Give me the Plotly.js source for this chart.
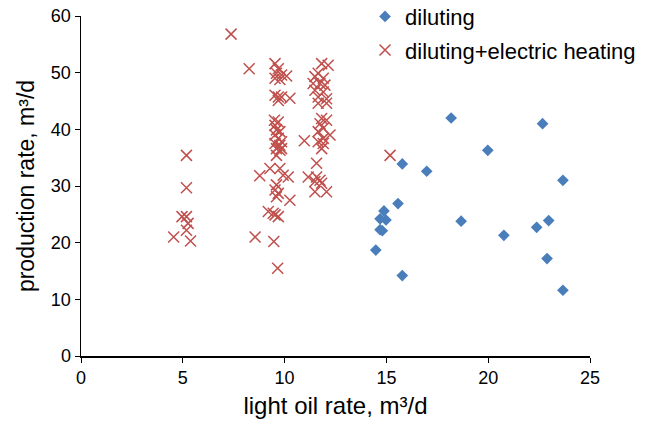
<!DOCTYPE html>
<html>
<head>
<meta charset="utf-8">
<script src="https://cdn.plot.ly/plotly-3.0.1.min.js"></script>
<style>html,body{margin:0;padding:0;background:#fff}#chart{width:646px;height:424px}</style>
</head>
<body>
<div id="chart"></div>
<script>
// diluting series
const dilutingX = [18.18, 22.67, 19.98, 15.78, 16.98, 23.67, 15.57, 14.88, 14.69, 14.98, 14.69, 14.80, 18.67, 22.97, 22.38, 20.77, 14.48, 22.89, 15.78, 23.67];
const dilutingY = [42.0, 41.0, 36.3, 33.9, 32.6, 31.0, 26.9, 25.6, 24.2, 24.0, 22.3, 22.1, 23.8, 23.9, 22.7, 21.3, 18.7, 17.2, 14.2, 11.6];

// diluting + electric heating series
const heatingX = [
  5.18, 5.18, 4.96, 5.18, 5.26, 5.18, 4.55, 5.38,
  7.37, 8.26, 8.55, 8.78, 9.47, 9.66,
  9.53, 9.69, 9.60, 9.85, 10.10, 9.53, 9.77, 9.53, 9.69, 9.85, 9.69, 10.26,
  9.50, 9.69, 9.53, 9.60, 9.77, 9.53, 9.69, 9.85, 9.53, 9.77, 9.60, 9.77, 9.60, 9.85,
  9.28, 9.77, 9.93, 10.18, 9.60, 9.53, 9.69, 9.60, 10.26, 9.20, 9.44, 9.69, 9.53, 10.97,
  11.82, 12.14, 11.65, 11.49, 11.90, 11.40, 11.74, 11.98, 11.49, 11.90, 11.65, 12.06, 11.65, 12.06,
  11.82, 12.06, 11.74, 11.90, 11.65, 12.23, 11.90, 11.65, 11.90, 11.82, 11.57, 11.16, 11.57, 11.74,
  11.82, 11.49, 11.49, 12.06, 15.18
];
const heatingY = [
  35.4, 29.7, 24.6, 24.6, 23.4, 22.2, 21.0, 20.3,
  56.8, 50.7, 21.0, 31.8, 20.2, 15.5,
  51.6, 50.7, 49.9, 49.6, 49.4, 49.0, 48.8, 46.0, 45.7, 45.7, 45.1, 45.5,
  41.6, 41.3, 40.7, 39.9, 39.6, 39.0, 38.4, 37.8, 37.5, 37.2, 36.6, 36.3, 35.4, 36.6,
  33.1, 33.1, 31.9, 31.6, 30.2, 29.3, 28.7, 28.1, 27.5, 25.5, 25.2, 24.6, 24.9, 38.0,
  51.6, 51.3, 49.9, 49.3, 49.0, 48.1, 48.1, 47.8, 46.9, 46.6, 45.7, 45.4, 44.6, 44.6,
  41.9, 41.6, 41.0, 40.2, 39.6, 39.0, 38.4, 37.8, 37.5, 36.6, 34.0, 31.6, 31.6, 31.0,
  30.5, 30.8, 29.0, 29.0, 35.4
];

const xTickVals = [0, 5, 10, 15, 20, 25];
const yTickVals = [0, 10, 20, 30, 40, 50, 60];

const font = "Liberation Sans, Arial, Helvetica, sans-serif";

const traces = [
  {
    x: dilutingX, y: dilutingY, type: 'scatter', mode: 'markers', name: 'diluting', legendgroup: 'a',
    marker: {symbol: 'diamond', size: 9, color: '#4A7EBB', line: {width: 0}}
  },
  {
    x: heatingX, y: heatingY, type: 'scatter', mode: 'markers', name: 'diluting+electric heating', legendgroup: 'b',
    marker: {symbol: 'x-thin-open', size: 11, color: '#C0504D', line: {width: 1.5, color: '#C0504D'}}
  }
];

const layout = {
  width: 646, height: 424,
  margin: {l: 81, r: 56, t: 16, b: 68, autoexpand: false},
  paper_bgcolor: '#fff', plot_bgcolor: '#fff',
  font: {family: font, color: '#000', size: 18},
  showlegend: true,
  legend: {x: 0.558, y: 1.06, xanchor: 'left', yanchor: 'top', bgcolor: 'rgba(0,0,0,0)',
           font: {family: font, size: 22, color: '#000'}, itemwidth: 30, tracegroupgap: 2},
  xaxis: {
    range: [0, 25], tickvals: xTickVals, ticktext: xTickVals.map(String),
    showgrid: false, zeroline: false, showline: true, linecolor: '#000', linewidth: 1.5,
    ticks: 'outside', ticklen: 5, tickcolor: '#000', tickwidth: 1,
    tickfont: {family: font, size: 18, color: '#000'},
    title: {text: 'light oil rate, m³/d', font: {family: font, size: 24, color: '#000'}, standoff: 10}
  },
  yaxis: {
    range: [0, 60], tickvals: yTickVals, ticktext: yTickVals.map(String),
    showgrid: false, zeroline: false, showline: true, linecolor: '#000', linewidth: 1.5,
    ticks: 'outside', ticklen: 5, tickcolor: '#000', tickwidth: 1,
    tickfont: {family: font, size: 18, color: '#000'},
    title: {text: 'production rate, m³/d', font: {family: font, size: 23, color: '#000'}, standoff: 10}
  }
};

Plotly.newPlot('chart', traces, layout, {displayModeBar: false, staticPlot: true});
</script>
</body>
</html>
